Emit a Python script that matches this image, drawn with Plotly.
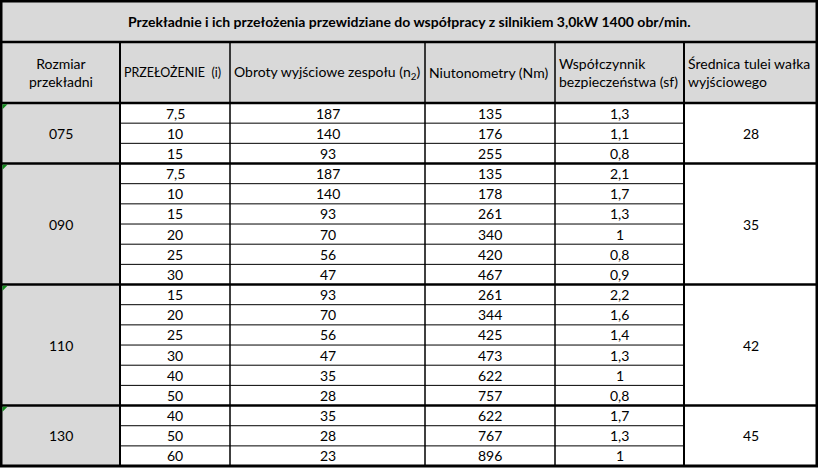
import plotly.graph_objects as go

# table content
title = "Przekładnie i ich przełożenia przewidziane do współpracy z silnikiem 3,0kW 1400 obr/min."
headers = ["Rozmiar<br>przekładni", "PRZEŁOŻENIE  (i)", "Obroty wyjściowe zespołu (n<sub>2</sub>)",
           "Niutonometry (Nm)", "Współczynnik<br>bezpieczeństwa (sf)", "Średnica tulei wałka<br>wyjściowego"]
header_align = ["center", "left", "left", "left", "left", "left"]
header_size = [14, 12.5, 14, 14, 14, 14]

sizes = ["075", "090", "110", "130"]
rows_per_size = [3, 6, 6, 3]
bore = [28, 35, 42, 45]

ratio = [7.5, 10, 15, 7.5, 10, 15, 20, 25, 30, 15, 20, 25, 30, 40, 50, 40, 50, 60]
speed = [187, 140, 93, 187, 140, 93, 70, 56, 47, 93, 70, 56, 47, 35, 28, 35, 28, 23]
torque = [135, 176, 255, 135, 178, 261, 340, 420, 467, 261, 344, 425, 473, 622, 757, 622, 767, 896]
safety = [1.3, 1.1, 0.8, 2.1, 1.7, 1.3, 1, 0.8, 0.9, 2.2, 1.6, 1.4, 1.3, 1, 0.8, 1.7, 1.3, 1]

# layout of the grid (pixels)
col_edges = [1, 120, 230, 425, 555, 684, 817]
title_top, title_bot, head_bot = 1, 42, 103
row_h = 20.17
GRAY = "#D9D9D9"
FONT = "Lato"
FS = 14


def fmt(v):
    return f"{v:g}".replace(".", ",")


n_rows = len(ratio)
row_top = [head_bot + i * row_h for i in range(n_rows + 1)]
bottom = row_top[-1]

shapes = []
annotations = []


def rect(x0, x1, y0, y1, fill):
    shapes.append(dict(type="rect", xref="x", yref="y", x0=x0, x1=x1, y0=y0, y1=y1,
                       fillcolor=fill, line=dict(width=0), layer="below"))


def line(x0, y0, x1, y1, w):
    shapes.append(dict(type="line", xref="x", yref="y", x0=x0, x1=x1, y0=y0, y1=y1,
                       line=dict(color="black", width=w)))


def text(x, y, s, anchor="center", bold=False, size=FS):
    annotations.append(dict(x=x, y=y, xref="x", yref="y", text=f"<b>{s}</b>" if bold else s,
                            showarrow=False, xanchor=anchor, yanchor="middle", align=anchor,
                            font=dict(family=FONT, size=size, color="black")))


# fills
rect(col_edges[0], col_edges[-1], title_top, head_bot, GRAY)
rect(col_edges[0], col_edges[1], head_bot, bottom, GRAY)

# title
text((col_edges[0] + col_edges[-1]) / 2, (title_top + title_bot) / 2, title, bold=True)

# headers
for c, h in enumerate(headers):
    if header_align[c] == "center":
        text((col_edges[c] + col_edges[c + 1]) / 2, (title_bot + head_bot) / 2, h, size=header_size[c])
    else:
        text(col_edges[c] + 2, (title_bot + head_bot) / 2, h, anchor="left", size=header_size[c])

# data rows
for i in range(n_rows):
    yc = (row_top[i] + row_top[i + 1]) / 2
    for c, v in enumerate([fmt(ratio[i]), fmt(speed[i]), fmt(torque[i]), fmt(safety[i])]):
        text((col_edges[c + 1] + col_edges[c + 2]) / 2, yc, v)

# merged size / bore cells
start = 0
group_starts = []
for s, n, b in zip(sizes, rows_per_size, bore):
    y0, y1 = row_top[start], row_top[start + n]
    group_starts.append(y0)
    text((col_edges[0] + col_edges[1]) / 2, (y0 + y1) / 2, s)
    text((col_edges[5] + col_edges[6]) / 2, (y0 + y1) / 2, str(b))
    start += n

# thin row lines (inside data columns)
for i in range(1, n_rows):
    if row_top[i] in group_starts:
        continue
    line(col_edges[1], row_top[i], col_edges[5], row_top[i], 1)

# thick group separators
for y in group_starts[1:]:
    line(col_edges[0], y, col_edges[-1], y, 2.5)
line(col_edges[0], title_bot, col_edges[-1], title_bot, 2.5)
line(col_edges[0], head_bot, col_edges[-1], head_bot, 2.5)

# vertical lines
for c in range(1, len(col_edges) - 1):
    line(col_edges[c], title_bot, col_edges[c], bottom, 2 if c in (1, 5) else 1.5)

# outer border
shapes.append(dict(type="rect", xref="x", yref="y", x0=col_edges[0], x1=col_edges[-1],
                   y0=title_top, y1=bottom, line=dict(color="black", width=3)))

# green error markers in size cells
for y in group_starts:
    x0 = col_edges[0] + 1.5
    y0 = y + 1.2
    shapes.append(dict(type="path", xref="x", yref="y",
                       path=f"M {x0},{y0} L {x0 + 5},{y0} L {x0},{y0 + 5} Z",
                       fillcolor="#118A1B", line=dict(width=0)))

fig = go.Figure()
fig.update_layout(
    width=818, height=468,
    margin=dict(l=0, r=0, t=0, b=0),
    paper_bgcolor="white", plot_bgcolor="white",
    showlegend=False,
    xaxis=dict(range=[0, 818], visible=False, fixedrange=True),
    yaxis=dict(range=[468, 0], visible=False, fixedrange=True),
    shapes=shapes, annotations=annotations,
)
fig.write_html("out.html", config={"displayModeBar": False},
               post_script="document.body.style.margin='0';")
